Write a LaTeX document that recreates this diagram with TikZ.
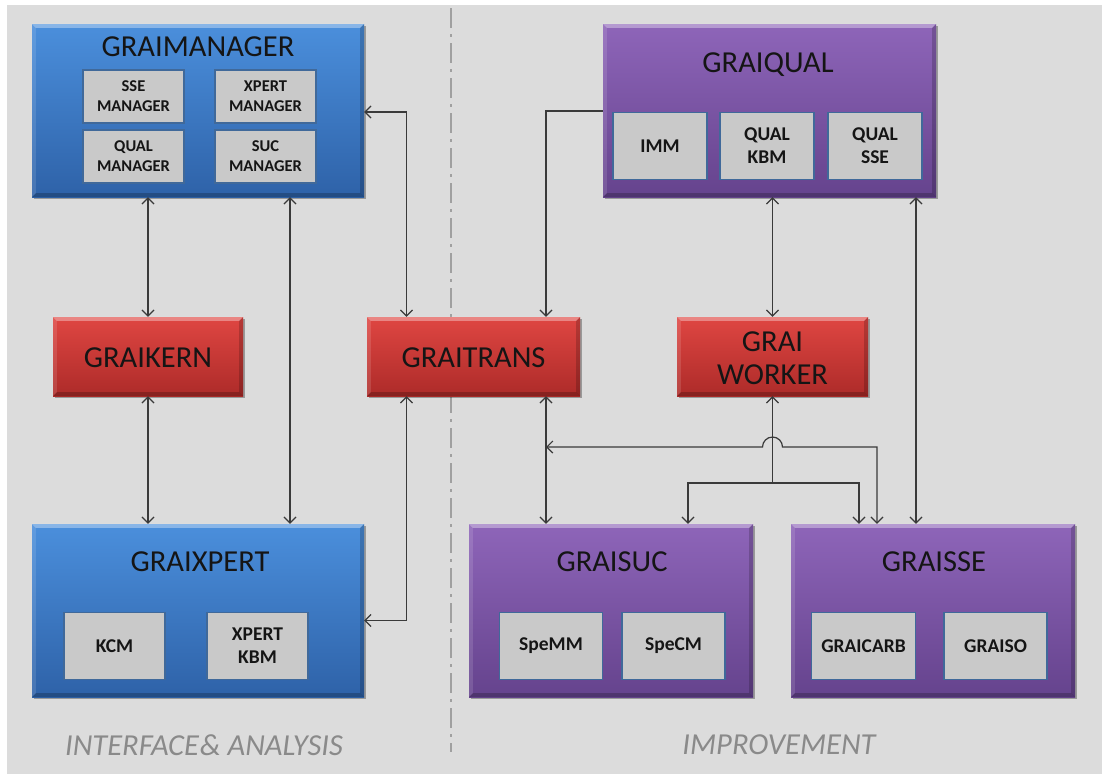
\documentclass[tikz,border=0pt]{standalone}
\usepackage{fontspec}
\setmainfont{Carlito}
\usetikzlibrary{arrows.meta,calc,shadows}
\definecolor{bg}{HTML}{DCDCDC}
\definecolor{bluetop}{HTML}{4B8FDC}
\definecolor{bluebot}{HTML}{2E62A8}
\definecolor{purtop}{HTML}{8E65B9}
\definecolor{purbot}{HTML}{65438D}
\definecolor{redtop}{HTML}{DF4642}
\definecolor{redbot}{HTML}{AD2B29}
\definecolor{innerfill}{HTML}{C9C9C9}
\definecolor{innerborder}{HTML}{40699A}
\definecolor{conncol}{HTML}{3A3A3A}
\definecolor{divc}{HTML}{A0A0A0}
\definecolor{labc}{HTML}{8A8A8A}
\definecolor{txt}{HTML}{151515}
\newcommand\bevelbox[1]{%
  \fill[white,opacity=0.35] (#1.north west) -- (#1.north east) -- ($(#1.north east)+(-4,4)$) -- ($(#1.north west)+(4,4)$) -- cycle;
  \fill[white,opacity=0.12] (#1.north west) -- ($(#1.north west)+(4,4)$) -- ($(#1.south west)+(4,-4)$) -- (#1.south west) -- cycle;
  \fill[black,opacity=0.18] (#1.north east) -- ($(#1.north east)+(-4,4)$) -- ($(#1.south east)+(-4,-4)$) -- (#1.south east) -- cycle;
  \fill[black,opacity=0.22] (#1.south west) -- (#1.south east) -- ($(#1.south east)+(-4,-4)$) -- ($(#1.south west)+(4,-4)$) -- cycle;
}
\tikzset{
  box/.style={rectangle, inner sep=0pt,
    drop shadow={shadow xshift=1.5pt, shadow yshift=-2pt, opacity=0.3, fill=black}},
  bluebox/.style={box, top color=bluetop, bottom color=bluebot},
  purbox/.style={box, top color=purtop, bottom color=purbot},
  redbox/.style={box, top color=redtop, bottom color=redbot, minimum height=79pt},
  ttl/.style={font=\fontsize{30.5}{33}\selectfont, text=txt, align=center, inner sep=0pt},
  inbox/.style={rectangle, fill=innerfill, draw=innerborder, line width=1.5pt,
    minimum width=101pt, minimum height=67pt, inner sep=0pt, align=center,
    font=\bfseries\fontsize{19.5}{23}\selectfont, text=txt},
  mgrin/.style={inbox, minimum height=53pt, font=\bfseries\fontsize{16.5}{20}\selectfont},
  lab/.style={font=\itshape\fontsize{30.5}{32}\selectfont, text=labc, inner sep=0pt},
  conn/.style={draw=conncol, line width=1.2pt},
  tip/.tip={Straight Barb[length=6pt,width=12pt]},
}
\begin{document}
\begin{tikzpicture}[x=1pt,y=-1pt]
\useasboundingbox (0,0) rectangle (1102,774);
\fill[bg] (7,5) rectangle (1102,774);
% divider
\coordinate (divT) at (451,8);
\coordinate (divB) at (451,752);
\draw[divc, line width=2pt, dash pattern=on 20pt off 6pt on 3pt off 6pt] (divT) -- (divB);

% big boxes
\node[bluebox, minimum width=332pt, minimum height=173pt] (mgr) at (198,110.5) {};
\node[bluebox, minimum width=332pt, minimum height=173pt] (xpert) at (198,610.5) {};
\node[purbox, minimum width=333pt, minimum height=173pt] (qual) at (769.5,110.5) {};
\node[purbox, minimum width=284pt, minimum height=173pt] (suc) at (611,610.5) {};
\node[purbox, minimum width=284pt, minimum height=173pt] (sse) at (933,610.5) {};
\node[redbox, minimum width=190pt] (kern) at (148,356.5) {};
\node[redbox, minimum width=213pt] (trans) at (473.5,356.5) {};
\node[redbox, minimum width=191pt] (worker) at (772.5,356.5) {};
\foreach \n in {mgr,xpert,qual,suc,sse,kern,trans,worker} {\bevelbox{\n}}

% titles
\node[ttl] (mgrT) at (198,47) {GRAIMANAGER};
\node[ttl] (qualT) at (768,65) {GRAIQUAL};
\node[ttl] (xpertT) at (200,562) {GRAIXPERT};
\node[ttl] (sucT) at (612,562) {GRAISUC};
\node[ttl] (sseT) at (934,562) {GRAISSE};
\node[ttl] (kernT) at (148,358) {GRAIKERN};
\node[ttl] (transT) at (473.5,358) {GRAITRANS};
\node[ttl] (workerT) at (772.5,358) {GRAI\\WORKER};

% inner boxes
\node[mgrin] (sseM) at (133.5,96.5) {SSE\\MANAGER};
\node[mgrin] (xpertM) at (265.5,96.5) {XPERT\\MANAGER};
\node[mgrin] (qualM) at (133.5,156.5) {QUAL\\MANAGER};
\node[mgrin] (sucM) at (265.5,156.5) {SUC\\MANAGER};
\node[inbox, minimum width=94pt] (imm) at (660,146) {IMM};
\node[inbox, minimum width=94pt] (qkbm) at (767,146) {QUAL\\KBM};
\node[inbox, minimum width=94pt] (qsse) at (875,146) {QUAL\\SSE};
\node[inbox] (kcm) at (114.5,646) {KCM};
\node[inbox] (xkbm) at (257.5,646) {XPERT\\KBM};
\node[inbox, minimum width=103pt] (spemm) at (551,646) {SpeMM};
\node[inbox, minimum width=103pt] (specm) at (673.5,646) {SpeCM};
\node[inbox, minimum width=104pt] (carb) at (863.5,646) {GRAICARB};
\node[inbox, minimum width=103pt] (iso) at (995.5,646) {GRAISO};

% connectors
\draw[conn, tip-tip] (kern.north |- mgr.south) -- (kern.north);
\draw[conn, tip-tip] (kern.south) -- (kern.south |- xpert.north);
\draw[conn, tip-tip] ([xshift=92pt]mgr.south) -- ([xshift=92pt]xpert.north);
\draw[conn, tip-tip] ([xshift=-67pt]trans.north) |- ([yshift=-1.5pt]mgr.east);
\draw[conn, tip-tip] ([xshift=-67pt]trans.south) |- ([yshift=-10pt]xpert.east);
\draw[conn, -tip] ([yshift=-0.5pt]qual.west) -| ([xshift=72.5pt]trans.north);
\draw[conn, tip-tip] (worker.north |- qual.south) -- (worker.north);
\draw[conn, tip-tip] ([xshift=-17pt]sse.north |- qual.south) -- ([xshift=-17pt]sse.north);
\draw[conn, tip-tip] ([xshift=72.5pt]trans.south) -- ([xshift=72.5pt]trans.south |- suc.north);
\coordinate (busL) at (546,447);
\coordinate (busR) at (877,447);
\coordinate (hopA) at (762.5,447);
\draw[conn, tip-tip] (busL) -- (hopA) arc[start angle=180, end angle=0, radius=10pt] -- (busR) -- (busR |- sse.north);
\coordinate (wj) at (772.5,483);
\draw[conn, -tip] (wj) -- (worker.south);
\draw[conn, -tip] (wj) -| ([xshift=77pt]suc.north);
\draw[conn, -tip] (wj) -| ([xshift=-74pt]sse.north);

% labels
\node[lab] (labL) at (204,745) {INTERFACE\kern1pt\& ANALYSIS};
\node[lab] (labR) at (779,745) {IMPROVEMENT};
\end{tikzpicture}
\end{document}
